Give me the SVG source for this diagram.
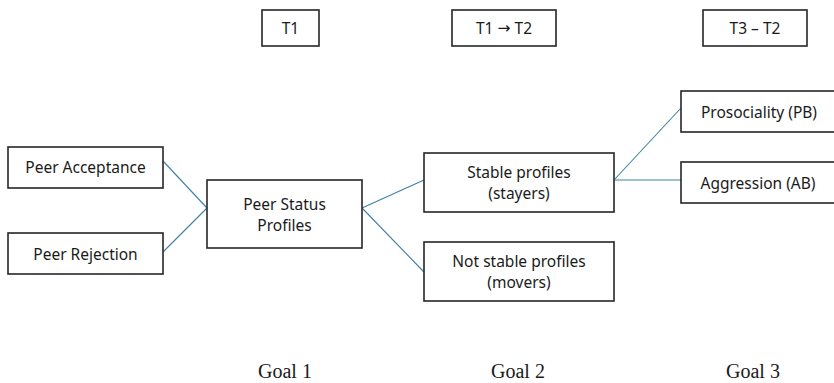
<svg xmlns="http://www.w3.org/2000/svg" width="834" height="383" viewBox="0 0 834 383">
<style>
.box{fill:#fff;stroke:#262626;stroke-width:1.6}
.t{font-family:"Noto Sans","Open Sans",sans-serif;font-size:15.5px;fill:#1a1a1a;text-anchor:middle;dominant-baseline:central}
.ar{font-family:"DejaVu Sans",sans-serif}
.g{font-family:"Liberation Serif",serif;font-size:20px;fill:#1a1a1a;text-anchor:middle}
.c{stroke:#3f7fa3;stroke-width:1.1;fill:none}
</style>
<rect width="834" height="383" fill="#fff"/>
<g id="connectors">
<line class="c" x1="163" y1="161" x2="207" y2="208"/>
<line class="c" x1="163" y1="252" x2="207" y2="208"/>
<line class="c" x1="362" y1="208" x2="424" y2="180"/>
<line class="c" x1="362" y1="208" x2="424" y2="272"/>
<line class="c" x1="614" y1="180" x2="681" y2="108"/>
<line class="c" x1="614" y1="180" x2="681" y2="180"/>
</g>
<g id="t1"><rect class="box" x="262" y="10" width="57" height="36"/><text class="t" x="290.5" y="28">T1</text></g>
<g id="t1t2"><rect class="box" x="452" y="10" width="104" height="36"/><text class="t" x="504" y="28">T1 <tspan class="ar">→</tspan> T2</text></g>
<g id="t3t2"><rect class="box" x="703" y="10" width="104" height="36"/><text class="t" x="755" y="28">T3 – T2</text></g>
<g id="peer-acceptance"><rect class="box" x="8" y="147" width="155" height="41"/><text class="t" x="85.5" y="167">Peer Acceptance</text></g>
<g id="peer-rejection"><rect class="box" x="8" y="233" width="155" height="41"/><text class="t" x="85.5" y="254">Peer Rejection</text></g>
<g id="peer-status"><rect class="box" x="207" y="180" width="155" height="68"/><text class="t" x="284.5" y="204">Peer Status</text><text class="t" x="284.5" y="225">Profiles</text></g>
<g id="stable"><rect class="box" x="424" y="153" width="190" height="59"/><text class="t" x="519" y="172">Stable profiles</text><text class="t" x="519" y="193">(stayers)</text></g>
<g id="not-stable"><rect class="box" x="424" y="242" width="190" height="59"/><text class="t" x="519" y="261">Not stable profiles</text><text class="t" x="519" y="282">(movers)</text></g>
<g id="prosociality"><rect class="box" x="681" y="91" width="170" height="41"/><text class="t" x="759" y="112">Prosociality (PB)</text></g>
<g id="aggression"><rect class="box" x="681" y="162" width="170" height="41"/><text class="t" x="758" y="183">Aggression (AB)</text></g>
<g id="goals">
<text class="g" x="285" y="378">Goal 1</text>
<text class="g" x="518" y="378">Goal 2</text>
<text class="g" x="753" y="378">Goal 3</text>
</g>
</svg>
